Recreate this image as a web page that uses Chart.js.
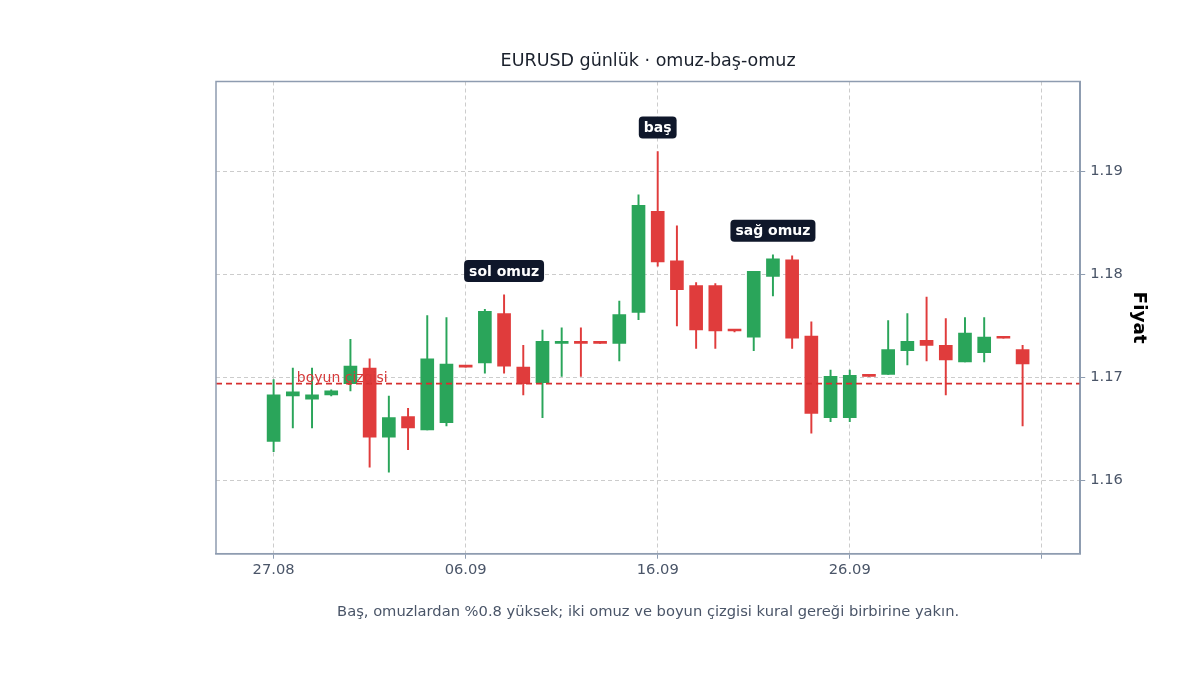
<!DOCTYPE html>
<html>
<head>
<meta charset="utf-8">
<script src="https://cdn.jsdelivr.net/npm/chart.js@4.4.1/dist/chart.umd.min.js"></script>
<style>
  html, body { margin: 0; padding: 0; background: #ffffff; }
  #wrap { width: 1200px; height: 675px; }
</style>
</head>
<body>
<div id="wrap"><canvas id="mycanvas" width="1200" height="675"></canvas></div>
<script>
// gunluk mumlar (27.08 - 05.10)
var dates = ['27.08','28.08','29.08','30.08','31.08','01.09','02.09','03.09','04.09','05.09',
	'06.09','07.09','08.09','09.09','10.09','11.09','12.09','13.09','14.09','15.09',
	'16.09','17.09','18.09','19.09','20.09','21.09','22.09','23.09','24.09','25.09',
	'26.09','27.09','28.09','29.09','30.09','01.10','02.10','03.10','04.10','05.10'];
var openP = [1.1638,1.1682,1.1679,1.1683,1.1694,1.1709,1.1642,1.1662,1.1649,1.1656,
	1.1711,1.1714,1.1762,1.1710,1.1695,1.1733,1.1734,1.1734,1.1733,1.1763,
	1.1861,1.1813,1.1789,1.1789,1.1746,1.1739,1.1798,1.1814,1.1740,1.1661,
	1.1661,1.1702,1.1703,1.1726,1.1736,1.1731,1.1715,1.1724,1.1739,1.1727];
var highP = [1.1698,1.1709,1.1709,1.1688,1.1737,1.1718,1.1682,1.1670,1.1760,1.1758,
	1.1711,1.1766,1.1780,1.1731,1.1746,1.1748,1.1748,1.1734,1.1774,1.1877,
	1.1919,1.1847,1.1792,1.1791,1.1746,1.1803,1.1819,1.1818,1.1754,1.1707,
	1.1707,1.1702,1.1755,1.1762,1.1778,1.1757,1.1758,1.1758,1.1739,1.1731];
var lowP = [1.1628,1.1651,1.1651,1.1682,1.1687,1.1613,1.1608,1.1630,1.1649,1.1653,
	1.1710,1.1704,1.1704,1.1683,1.1661,1.1701,1.1701,1.1733,1.1716,1.1756,
	1.1808,1.1750,1.1728,1.1728,1.1744,1.1726,1.1779,1.1728,1.1646,1.1657,
	1.1657,1.1701,1.1703,1.1712,1.1716,1.1683,1.1715,1.1715,1.1738,1.1653];
var closeP = [1.1683,1.1686,1.1683,1.1687,1.1711,1.1642,1.1661,1.1651,1.1718,1.1713,
	1.1710,1.1764,1.1711,1.1694,1.1735,1.1735,1.1733,1.1733,1.1761,1.1867,
	1.1812,1.1785,1.1746,1.1745,1.1745,1.1803,1.1815,1.1738,1.1665,1.1701,
	1.1702,1.1701,1.1727,1.1735,1.1731,1.1717,1.1743,1.1739,1.1738,1.1713];

var neckline = 1.1694;
var neckLabel = 'boyun çizgisi';
var markIdx = [12, 20, 26];              // omuz / bas mumlari
var markText = ['sol omuz', 'baş', 'sağ omuz'];
var xTicks = [0, 10, 20, 30, 40];
var yTicks = [1.16, 1.17, 1.18, 1.19];

var UP = '#2aa55a', DOWN = '#e03c3c';
var FONT = "'DejaVu Sans', sans-serif";

var bodies = [], wicks = [], colors = [];
for (var i in dates) {
	var n = Number(i);
	bodies.push({ x: n, y: [openP[n], closeP[n]] });
	wicks.push({ x: n, y: [lowP[n], highP[n]] });
	colors.push(closeP[n] >= openP[n] ? UP : DOWN);
}

// cerceve + boyun yazisi + etiketler
var extras = {
	id: 'extras',
	afterDatasetsDraw: function(chart) {
		var ctx = chart.ctx, xs = chart.scales.x, ys = chart.scales.y;
		var yN = ys.getPixelForValue(neckline);
		ctx.save();
		ctx.font = '14px ' + FONT;
		ctx.fillStyle = '#d63a3a';
		ctx.textAlign = 'left';
		ctx.textBaseline = 'alphabetic';
		ctx.fillText(neckLabel, xs.getPixelForValue(1) + 4, yN - 2);

		ctx.font = 'bold 14px ' + FONT;
		ctx.textAlign = 'center';
		ctx.textBaseline = 'middle';
		for (var k = 0; k < markIdx.length; k++) {
			var px = xs.getPixelForValue(markIdx[k]);
			var py = ys.getPixelForValue(highP[markIdx[k]]) - 24;
			var w = ctx.measureText(markText[k]).width + 10, h = 22;
			ctx.fillStyle = '#0f172a';
			ctx.beginPath();
			ctx.roundRect(px - w / 2, py - h / 2, w, h, 4);
			ctx.fill();
			ctx.fillStyle = '#ffffff';
			ctx.fillText(markText[k], px, py + 1);
		}
		ctx.restore();
	},
	afterDraw: function(chart) {
		var a = chart.chartArea, ctx = chart.ctx;
		ctx.save();
		ctx.strokeStyle = '#8e9cb0';
		ctx.lineWidth = 1.5;
		ctx.strokeRect(a.left, a.top, a.right - a.left, a.bottom - a.top);
		ctx.restore();
	}
};

var chartdata = {
	datasets: [
		{
			type: 'line',
			label: 'neck',
			data: [{ x: -3, y: neckline }, { x: 42, y: neckline }],
			borderColor: '#d62f2f',
			borderWidth: 1.8,
			borderDash: [6, 4],
			pointRadius: 0,
			order: 0
		},
		{
			label: 'body',
			data: bodies,
			backgroundColor: colors,
			borderWidth: 0,
			barThickness: 13,
			minBarLength: 2,
			grouped: false,
			order: 1
		},
		{
			label: 'wick',
			data: wicks,
			backgroundColor: colors,
			borderWidth: 0,
			barThickness: 1.3,
			grouped: false,
			order: 2
		}
	]
};

var ctx = document.getElementById('mycanvas');
var LineGraph = new Chart(ctx, {
	type: 'bar',
	data: chartdata,
	plugins: [extras],
	options: {
		responsive: false,
		animation: false,
		devicePixelRatio: 1,
		layout: { padding: { left: 216, right: 46, top: 51, bottom: 54 } },
		plugins: {
			legend: { display: false },
			tooltip: { enabled: false },
			title: {
				display: true,
				fullSize: false,
				text: 'EURUSD günlük · omuz-baş-omuz',
				color: '#1a202c',
				font: { family: FONT, size: 17.5, weight: 'normal' },
				padding: { top: 0, bottom: 9.5 }
			},
			subtitle: {
				display: true,
				fullSize: false,
				position: 'bottom',
				text: 'Baş, omuzlardan %0.8 yüksek; iki omuz ve boyun çizgisi kural gereği birbirine yakın.',
				color: '#4a5568',
				font: { family: FONT, size: 14.7 },
				padding: { top: 21, bottom: 0 }
			}
		},
		scales: {
			x: {
				type: 'linear',
				min: -3,
				max: 42,
				offset: false,
				afterBuildTicks: function(axis) {
					axis.ticks = xTicks.map(function(v) { return { value: v }; });
				},
				ticks: {
					color: '#4a5568',
					font: { family: FONT, size: 14.7 },
					padding: 3,
					maxRotation: 0,
					callback: function(v) { return dates[v] || ''; }
				},
				grid: { offset: false, color: '#cccccc', tickColor: '#8e9cb0', tickLength: 5 },
				border: { color: '#8e9cb0', width: 1.5, dash: [4, 3] }
			},
			y: {
				position: 'right',
				min: 1.1529,
				max: 1.1987,
				afterBuildTicks: function(axis) {
					axis.ticks = yTicks.map(function(v) { return { value: v }; });
				},
				ticks: {
					color: '#4a5568',
					font: { family: FONT, size: 14.7 },
					padding: 5,
					callback: function(v) { return v.toFixed(2); }
				},
				grid: { color: '#cccccc', tickColor: '#8e9cb0', tickLength: 5 },
				border: { color: '#8e9cb0', width: 1.5, dash: [4, 3] },
				title: {
					display: true,
					text: 'Fiyat',
					color: '#000000',
					font: { family: FONT, size: 18.4, weight: 'bold' },
					padding: { top: 4, bottom: 0 }
				}
			}
		}
	}
});
</script>
</body>
</html>
